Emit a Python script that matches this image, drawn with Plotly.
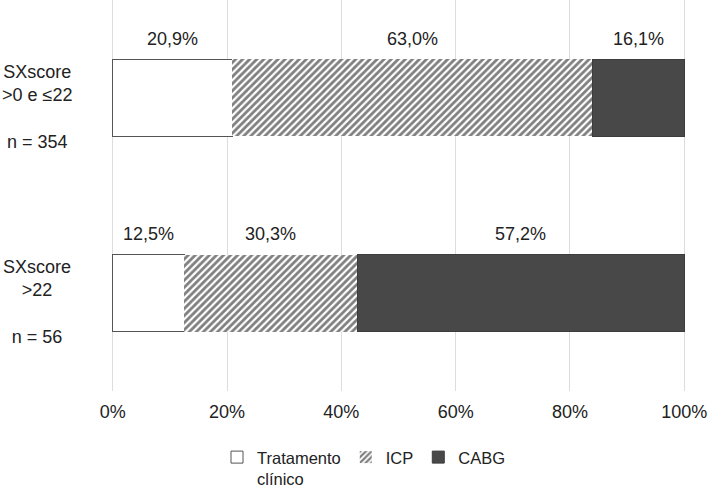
import plotly.graph_objects as go

categories = ["SXscore >0 e ≤22", "SXscore >22"]
cat_labels = ["SXscore<br>>0 e ≤22<br><br>n = 354", "SXscore<br>>22<br><br>n = 56"]
series_names = ["Tratamento<br>clínico", "ICP", "CABG"]
tratamento = [20.9, 12.5]
icp = [63.0, 30.3]
cabg = [16.1, 57.2]
x_ticks = [0, 20, 40, 60, 80, 100]
x_tick_labels = ["0%", "20%", "40%", "60%", "80%", "100%"]

FONT = "Liberation Sans, Arial, sans-serif"
series = [tratamento, icp, cabg]

fig = go.Figure()
fig.add_trace(go.Bar(
    y=categories, x=tratamento, orientation="h", name=series_names[0],
    marker=dict(color="white", line=dict(color="#555555", width=1)),
))
fig.add_trace(go.Bar(
    y=categories, x=icp, orientation="h", name=series_names[1],
    marker=dict(color="white", line=dict(width=0),
                pattern=dict(shape="/", fgcolor="black", bgcolor="white",
                             size=5, solidity=0.55)),
))
fig.add_trace(go.Bar(
    y=categories, x=cabg, orientation="h", name=series_names[2],
    marker=dict(color="#484848", line=dict(color="#3c3c3c", width=1)),
))

annotations = []
for ci, cat in enumerate(categories):
    start = 0
    for s in series:
        v = s[ci]
        annotations.append(dict(
            x=start + v / 2, y=cat, xref="x", yref="y", yshift=59,
            text=f"{v:.1f}%".replace(".", ","), showarrow=False,
            font=dict(family=FONT, size=18, color="#222222"),
        ))
        start += v
    annotations.append(dict(
        x=0, y=cat, xref="paper", yref="y", xshift=-74, yshift=-9,
        text=cat_labels[ci], showarrow=False, align="center",
        xanchor="center", yanchor="middle",
        font=dict(family=FONT, size=18, color="#222222"),
    ))

fig.update_layout(
    width=708, height=492,
    margin=dict(l=111, r=22, t=0, b=101, autoexpand=False),
    barmode="stack", bargap=0.605,
    plot_bgcolor="white", paper_bgcolor="white",
    font=dict(family=FONT, size=18, color="#222222"),
    xaxis=dict(range=[-0.3, 100.3], tickmode="array", tickvals=x_ticks,
               ticktext=x_tick_labels, ticklabeloverflow="allow",
               showgrid=True, gridcolor="#dcdcdc", gridwidth=1,
               zeroline=False, showline=False,
               ticks="outside", ticklen=4, tickcolor="rgba(0,0,0,0)",
               tickfont=dict(family=FONT, size=18, color="#222222")),
    yaxis=dict(categoryorder="array", categoryarray=categories,
               autorange="reversed", showticklabels=False,
               showgrid=False, zeroline=False, showline=False),
    legend=dict(orientation="h", x=0.44, xanchor="center", y=-0.125,
                yanchor="top", valign="top", itemwidth=30,
                font=dict(family=FONT, size=16.5, color="#222222"),
                traceorder="normal"),
    annotations=annotations,
)

fig.write_html("out.html")
